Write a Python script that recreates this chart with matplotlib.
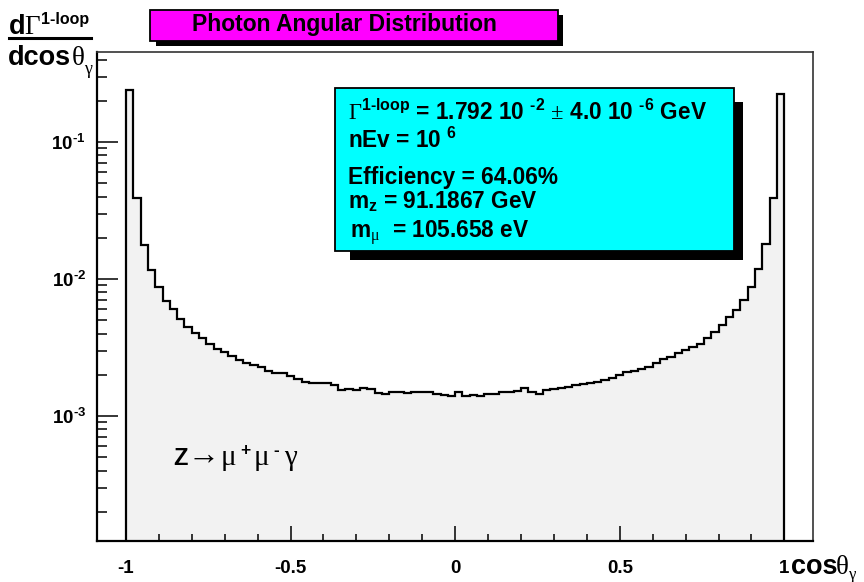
import numpy as np
import matplotlib
matplotlib.use("Agg")
import matplotlib.pyplot as plt
from matplotlib.patches import Rectangle
from matplotlib.lines import Line2D
from matplotlib.ticker import LogLocator, NullFormatter

plt.rcParams['font.family'] = ['Liberation Sans', 'DejaVu Sans']
plt.rcParams['font.weight'] = 'bold'
plt.rcParams['mathtext.fontset'] = 'custom'
plt.rcParams['mathtext.rm'] = 'Liberation Sans:bold'
plt.rcParams['mathtext.sf'] = 'Liberation Serif:weight=normal'   # Greek "Symbol" glyphs
plt.rcParams['mathtext.default'] = 'rm'

# ---------------- data ----------------
x_lo, x_hi, n_bins = -1.0, 1.0, 90
counts = [
    0.240, 0.0388, 0.01771, 0.01163, 0.00879, 0.00694, 0.00601, 0.00511, 0.00448, 0.00406,
    0.00369, 0.00335, 0.00310, 0.00292, 0.00273, 0.00256, 0.00245, 0.00235, 0.00227, 0.00214,
    0.00205, 0.00207, 0.00196, 0.00185, 0.00178, 0.00173, 0.00175, 0.00173, 0.00168, 0.00155,
    0.00157, 0.00155, 0.00161, 0.00157, 0.00148, 0.00146, 0.00149, 0.00149, 0.00148, 0.00149,
    0.00150, 0.00149, 0.00144, 0.00142, 0.00141, 0.00149, 0.00141, 0.00142, 0.00141, 0.00146,
    0.00146, 0.00150, 0.00150, 0.00152, 0.00159, 0.00149, 0.00146, 0.00155, 0.00157, 0.00159,
    0.00164, 0.00168, 0.00171, 0.00173, 0.00177, 0.00183, 0.00191, 0.00198, 0.00208, 0.00215,
    0.00220, 0.00229, 0.00245, 0.00259, 0.00268, 0.00287, 0.00303, 0.00317, 0.00335, 0.00369,
    0.00408, 0.00461, 0.00525, 0.00594, 0.00703, 0.00879, 0.01177, 0.01792, 0.0388, 0.2230,
]
edges = np.linspace(x_lo, x_hi, n_bins + 1)

xtick_vals = [-1, -0.5, 0, 0.5, 1]
xtick_labels = ['-1', '-0.5', '0', '0.5', '1']
ytick_vals = [1e-3, 1e-2, 1e-1]
ytick_labels = [r'10$^{\text{-3}}$', r'10$^{\text{-2}}$', r'10$^{\text{-1}}$']

stats_lines = [
    r'$\mathsf{\Gamma}^{\text{1-loop}}$ = 1.792 10 $^{\text{-2}}$ $\mathsf{\pm}$ 4.0 10 $^{\text{-6}}$ GeV',
    r'nEv = 10 $^{6}$',
    r'Efficiency = 64.06%',
    r'm$_{z}$ = 91.1867 GeV',
    r'm$_{\mathsf{\mu}}$  = 105.658 eV',
]

# ---------------- figure ----------------
W, H = 864, 582
fig = plt.figure(figsize=(W / 100, H / 100), dpi=100)


def fx(px):
    return px / W


def fy(py):
    return 1 - py / H


ax = fig.add_axes([fx(97), fy(541), fx(813) - fx(97), fy(52) - fy(541)])
ax.set_yscale('log')
ax.set_xlim(-1.088, 1.087)
ax.set_ylim(1.225e-4, 0.454)

ax.stairs(counts, edges, baseline=1e-6, fill=True, color='#f2f2f2', zorder=1)
ax.stairs(counts, edges, baseline=1e-6, fill=False, color='black', lw=1.6, zorder=2)

# axes / ticks in ROOT style
for s in ['left', 'bottom']:
    ax.spines[s].set_linewidth(1.6)
for s in ['top', 'right']:
    ax.spines[s].set_linewidth(1.2)
    ax.spines[s].set_color('#333333')

ax.set_xticks(xtick_vals, labels=xtick_labels)
ax.set_xticks(np.arange(-1.0, 1.01, 0.1), minor=True)
ax.set_yticks(ytick_vals, labels=ytick_labels)
ax.yaxis.set_minor_locator(LogLocator(base=10, subs=np.arange(2, 10)))
ax.yaxis.set_minor_formatter(NullFormatter())
ax.tick_params(axis='both', which='both', direction='in', top=False, right=False,
               labelsize=13.5, width=1.1)
ax.tick_params(axis='x', which='major', length=10.5, pad=13.5)
ax.tick_params(axis='x', which='minor', length=5.3)
ax.tick_params(axis='y', which='major', length=15, pad=8)
ax.tick_params(axis='y', which='minor', length=7.5)

# ---------------- title box ----------------
fig.add_artist(Rectangle((fx(156), fy(45.5)), fx(563) - fx(156), fy(15) - fy(45.5),
                         transform=fig.transFigure, facecolor='black', edgecolor='none', zorder=5))
fig.add_artist(Rectangle((fx(150), fy(40.5)), fx(558) - fx(150), fy(10) - fy(40.5),
                         transform=fig.transFigure, facecolor='#ff00ff', edgecolor='black',
                         lw=1.3, zorder=6))
fig.text(fx(344), fy(31.5), 'Photon Angular Distribution', fontsize=16.5, ha='center',
         va='baseline', zorder=7)

# ---------------- stats box ----------------
fig.add_artist(Rectangle((fx(350), fy(260)), fx(743) - fx(350), fy(102) - fy(260),
                         transform=fig.transFigure, facecolor='black', edgecolor='none', zorder=5))
fig.add_artist(Rectangle((fx(335), fy(251)), fx(734) - fx(335), fy(87.5) - fy(251),
                         transform=fig.transFigure, facecolor='#00ffff', edgecolor='black',
                         lw=1.3, zorder=6))
line_y = [120, 148, 184, 208, 238]
line_x = [348, 348, 348, 348, 350]
for txt, lx, ly in zip(stats_lines, line_x, line_y):
    fig.text(fx(lx), fy(ly), txt, fontsize=16.3, ha='left', va='baseline', zorder=7)

# ---------------- axis titles ----------------
big = 19.5
serif = dict(family='Liberation Serif', weight='normal', va='baseline')
fig.text(fx(9), fy(34), 'd', fontsize=big, va='baseline')
fig.text(fx(24), fy(34), '\u0393', fontsize=big, **serif)
fig.text(fx(41), fy(24), '1-loop', fontsize=11.5, va='baseline')
fig.add_artist(Line2D([fx(9), fx(91)], [fy(38), fy(38)], color='black', lw=2.2,
                      transform=fig.transFigure))
fig.text(fx(8), fy(65), 'dcos', fontsize=big, va='baseline')
fig.text(fx(72), fy(65), '\u03b8', fontsize=big, **serif)
fig.text(fx(84), fy(74), '\u03b3', fontsize=13, **serif)

fig.text(fx(791), fy(574), 'cos', fontsize=big, va='baseline')
fig.text(fx(836), fy(574), '\u03b8', fontsize=big, **serif)
fig.text(fx(849), fy(579), '\u03b3', fontsize=12, **serif)

# process label  Z -> mu+ mu- gamma
fig.text(fx(173), fy(465), 'Z', fontsize=17, va='baseline', zorder=7)
fig.text(fx(187), fy(464), '\u2192', fontsize=23, zorder=7, **serif)
fig.text(fx(221), fy(465), '\u03bc', fontsize=21, zorder=7, **serif)
fig.text(fx(240), fy(455), '+', fontsize=12.5, va='baseline', zorder=7)
fig.text(fx(254), fy(465), '\u03bc', fontsize=21, zorder=7, **serif)
fig.text(fx(273), fy(455), '-', fontsize=12.5, va='baseline', zorder=7)
fig.text(fx(284), fy(465), '\u03b3', fontsize=21, zorder=7, **serif)

fig.savefig('out.png', dpi=100)
